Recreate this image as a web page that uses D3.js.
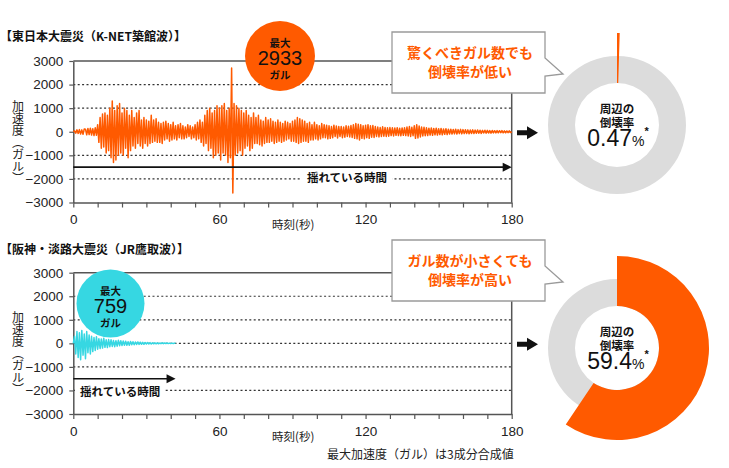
<!DOCTYPE html>
<html><head><meta charset="utf-8">
<script src="https://cdn.jsdelivr.net/npm/d3@7/dist/d3.min.js"></script>
<style>body{margin:0;background:#fff}svg{display:block}</style></head>
<body><svg id="c" width="729" height="468"></svg>
<script>
// ---------------- DATA ----------------
const titles = ["【東日本大震災（K-NET築館波）】", "【阪神・淡路大震災（JR鷹取波）】"];
const yTicks = [3000, 2000, 1000, 0, -1000, -2000, -3000];
const gridValues = [2000, 1000, 0, -1000, -2000];
const xMinorTicks = [0,10,20,30,40,50,60,70,80,90,100,110,120,130,140,150,160,170,180];
const xTickLabels = [0, 60, 120, 180];
const sampleStep = 0.5; // seconds between samples
// 東日本大震災 K-NET築館 (gal), one value every 0.5 s from t=0 to 180
const tohokuAccel = [
 0,40,-60,80,-70,90,-100,80,-110,120,
 110,-130,140,-120,150,-140,130,-160,170,-150,
 300,-450,600,-700,750,-650,800,-900,700,-800,
 1000,-1100,1300,-1300,900,-1200,1100,-1000,1200,-900,
 800,-1000,1000,-700,900,-1100,700,-800,900,-600,
 600,-700,800,-500,900,-600,500,-700,600,-500,
 500,-600,450,-500,700,-450,500,-400,550,-450,
 400,-450,350,-500,400,-350,450,-300,350,-400,
 300,-350,400,-300,250,-350,300,-250,350,-300,
 250,-300,200,-250,300,-200,250,-300,200,-250,
 300,-350,400,-300,500,-450,400,-600,700,-500,
 900,-800,1000,-700,800,-1100,900,-1000,1100,-900,
 1000,-1200,1100,-900,1200,-1000,900,-1300,1000,-1100,
 2700,-2600,1200,-1000,1100,-900,1000,-800,900,-1000,
 800,-700,900,-600,700,-800,600,-700,800,-500,
 600,-500,700,-550,500,-600,450,-500,600,-450,
 500,-450,550,-400,450,-500,400,-450,500,-400,
 400,-450,350,-400,450,-350,400,-300,350,-400,
 450,-400,500,-450,600,-500,550,-450,500,-400,
 450,-400,350,-450,400,-350,300,-350,400,-300,
 300,-350,250,-300,350,-250,300,-250,280,-300,
 250,-280,220,-250,280,-200,240,-260,220,-200,
 220,-250,200,-230,250,-200,230,-220,260,-240,
 300,-280,350,-300,320,-350,300,-280,250,-300,
 280,-250,300,-280,250,-230,260,-240,220,-200,
 200,-220,180,-200,210,-190,180,-200,170,-190,
 180,-160,170,-180,160,-150,170,-160,150,-170,
 160,-150,170,-160,200,-180,220,-200,190,-170,
 250,-280,300,-260,240,-220,200,-180,190,-170,
 170,-160,150,-140,160,-150,140,-130,150,-140,
 130,-120,140,-130,120,-110,130,-120,110,-100,
 110,-100,100,-90,110,-100,90,-80,100,-90,
 90,-80,85,-75,80,-85,75,-70,80,-75,
 70,-65,75,-60,65,-70,60,-55,65,-60,
 60,-55,50,-60,55,-50,45,-50,50,-45,
 45,-40,50,-45,40,-45,35,-40,40,-35,
 0
];
// 阪神・淡路大震災 JR鷹取 (gal), one value every 0.5 s from t=0 to 42
const kobeAccel = [
 0,300,-450,500,-600,450,-700,550,-500,400,
 -650,500,-400,350,-450,300,-350,250,-300,280,
 -250,200,-220,180,-200,220,-170,150,-180,160,
 -140,150,-130,120,-140,110,-120,130,-100,110,
 -90,100,-80,90,-85,70,-80,75,-60,70,
 -60,55,-50,60,-45,50,-40,45,-40,35,
 -30,35,-25,30,-30,25,-20,25,-20,20,
 -20,15,-15,20,-15,15,-10,15,-10,10,
 -10,10,-5,5,0
];
const peakGal = [2933, 759];
const shakeDuration = [180, 42];
const collapseRate = [0.47, 59.4];
const calloutLines = [["驚くべきガル数でも", "倒壊率が低い"], ["ガル数が小さくても", "倒壊率が高い"]];

// ---------------- LAYOUT / STYLE ----------------
const JP = "'Noto Sans CJK JP', 'Noto Sans', sans-serif";
const NUM = "'Liberation Sans', Arial, sans-serif";
const ORANGE = "#ff5a00";
const CYAN = "#36d7e2";
const GRAY = "#dcdcdc";
const layout = [
  {top: 61, bottom: 202.5, titleY: 41, circle: {x: 280, y: 56, r: 35, color: ORANGE},
   wave: ORANGE, boxY: 32, donut: {x: 617, y: 125}, textAnchor: "middle", textX: 347, textY: 182, bgX: 301, bgW: 91},
  {top: 272.7, bottom: 414, titleY: 254, circle: {x: 110.5, y: 303.5, r: 34, color: CYAN},
   wave: CYAN, boxY: 240, donut: {x: 617, y: 348}, textAnchor: "start", textX: 80, textY: 396, bgX: 75, bgW: 90}
];
const svg = d3.select("#c");
const x = d3.scaleLinear().domain([0, 180]).range([73.3, 511.7]);

layout.forEach((L, p) => {
  const y = d3.scaleLinear().domain([-3000, 3000]).range([L.bottom, L.top]);
  const g = svg.append("g");
  const data = p === 0 ? tohokuAccel : kobeAccel;

  // title
  g.append("text").attr("x", 0).attr("y", L.titleY).attr("font-family", JP)
    .attr("font-weight", "bold").attr("font-size", 12).attr("fill", "#111").text(titles[p]);

  // grid
  g.selectAll(".grid").data(gridValues).enter().append("line")
    .attr("x1", x(0)).attr("x2", x(180)).attr("y1", d => y(d)).attr("y2", d => y(d))
    .attr("stroke", "#333").attr("stroke-width", 1.2).attr("stroke-dasharray", "2,2.4");

  // frame (top & right)
  g.append("path").attr("d", `M${x(0)},${y(3000)}H${x(180)}V${y(-3000)}`)
    .attr("fill", "none").attr("stroke", "#555").attr("stroke-width", 1.5);

  // axes
  const ya = g.append("g").attr("transform", `translate(${x(0)},0)`)
    .call(d3.axisLeft(y).tickValues(yTicks).tickSize(4).tickPadding(6).tickSizeOuter(0).tickFormat(d3.format("d")));
  const xa = g.append("g").attr("transform", `translate(0,${y(-3000)})`)
    .call(d3.axisBottom(x).tickValues(xMinorTicks).tickSize(5).tickPadding(7).tickSizeOuter(0)
      .tickFormat(d => xTickLabels.includes(d) ? d : ""));
  [ya, xa].forEach(a => {
    a.select(".domain").attr("stroke", "#555").attr("stroke-width", 1.5);
    a.selectAll(".tick line").attr("stroke", "#555").attr("stroke-width", 1.2);
    a.selectAll("text").attr("font-family", NUM).attr("font-size", 13.5).attr("fill", "#222");
  });

  // y label (vertical)
  g.append("text").attr("x", 18).attr("y", L.top + 39).attr("font-family", JP).attr("font-size", 12)
    .attr("fill", "#222").style("writing-mode", "vertical-rl").text("加速度（ガル）");
  // x label
  g.append("text").attr("x", 272).attr("y", L.bottom + 26.5).attr("font-family", JP).attr("font-size", 11.5)
    .attr("fill", "#222").text("時刻(秒)");

  // waveform
  const line = d3.line().x((d, i) => x(i * sampleStep)).y(d => y(d));
  g.append("path").datum(data).attr("d", line).attr("fill", "none")
    .attr("stroke", L.wave).attr("stroke-width", 1.5).attr("stroke-linejoin", "round");

  // shake duration arrow
  const ay = y(-1500);
  const xe = x(shakeDuration[p]);
  g.append("line").attr("x1", x(0)).attr("x2", xe - 6).attr("y1", ay).attr("y2", ay)
    .attr("stroke", "#111").attr("stroke-width", 1.6);
  g.append("path").attr("d", `M${xe},${ay}L${xe - 9},${ay - 4.5}L${xe - 9},${ay + 4.5}Z`).attr("fill", "#111");
  g.append("rect").attr("x", L.bgX).attr("y", L.textY - 12).attr("width", L.bgW).attr("height", 14).attr("fill", "#fff");
  g.append("text").attr("x", L.textX).attr("y", L.textY).attr("text-anchor", L.textAnchor)
    .attr("font-family", JP).attr("font-weight", "bold").attr("font-size", 11.5).attr("fill", "#111").text("揺れている時間");

  // peak circle
  const c = L.circle;
  g.append("circle").attr("cx", c.x).attr("cy", c.y).attr("r", c.r).attr("fill", c.color);
  const ct = g.append("text").attr("text-anchor", "middle").attr("fill", "#111");
  ct.append("tspan").attr("x", c.x).attr("y", c.y - 9).attr("font-family", JP).attr("font-weight", "bold")
    .attr("font-size", 10.5).text("最大");
  ct.append("tspan").attr("x", c.x).attr("y", c.y + 9).attr("font-family", NUM).attr("font-size", 20).text(peakGal[p]);
  ct.append("tspan").attr("x", c.x).attr("y", c.y + 23).attr("font-family", JP).attr("font-weight", "bold")
    .attr("font-size", 10.5).text("ガル");

  // callout box
  const by = L.boxY;
  g.append("path").attr("d", `M392,${by}H545V${by + 26}L563,${by + 42}L545,${by + 44}V${by + 61}H392Z`)
    .attr("fill", "#fff").attr("stroke", "#9a9a9a").attr("stroke-width", 1.3);
  const bt = g.append("text").attr("text-anchor", "middle").attr("font-family", JP).attr("font-weight", "bold")
    .attr("font-size", 14).attr("fill", ORANGE);
  calloutLines[p].forEach((t, i) => {
    bt.append("tspan").attr("x", 470).attr("y", by + 26 + i * 19).text(t);
  });

  // black arrow
  const zy = y(0) + 1;
  g.append("path").attr("d", `M517,${zy - 2.5}H527V${zy - 6.5}L538,${zy}L527,${zy + 6.5}V${zy + 2.5}H517Z`).attr("fill", "#111");

  // donut
  const d = L.donut;
  const dg = g.append("g").attr("transform", `translate(${d.x},${d.y})`);
  dg.append("path").attr("d", d3.arc().innerRadius(42).outerRadius(69).startAngle(0).endAngle(2 * Math.PI)()).attr("fill", GRAY);
  dg.append("path").attr("d", d3.arc().innerRadius(42).outerRadius(92).startAngle(0)
    .endAngle(Math.max(2 * Math.PI * collapseRate[p] / 100, 0.012))()).attr("fill", ORANGE);
  const vt = dg.append("text").attr("text-anchor", "middle").attr("fill", "#111");
  vt.append("tspan").attr("x", 0).attr("y", -12.5).attr("font-family", JP).attr("font-weight", "bold")
    .attr("font-size", 11.5).text("周辺の");
  vt.append("tspan").attr("x", 0).attr("y", 1.5).attr("font-family", JP).attr("font-weight", "bold")
    .attr("font-size", 11.5).text("倒壊率");
  vt.append("tspan").attr("x", 1).attr("y", 21).attr("font-family", NUM).attr("font-size", 23).text(collapseRate[p]);
  vt.append("tspan").attr("font-family", NUM).attr("font-size", 14).text("%");
  vt.append("tspan").attr("font-family", NUM).attr("font-size", 11).attr("font-weight", "bold").attr("dy", -11).text("*");
});

// footer note
svg.append("text").attr("x", 327).attr("y", 459).attr("font-family", JP).attr("font-size", 12)
  .attr("fill", "#222").text("最大加速度（ガル）は3成分合成値");
</script></body></html>
